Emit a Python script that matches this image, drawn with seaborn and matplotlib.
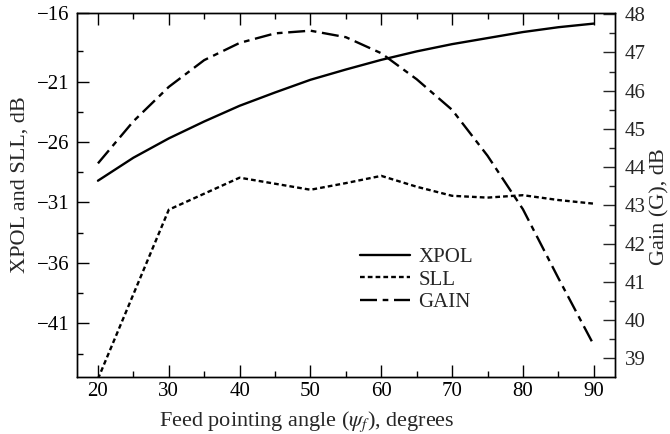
import numpy as np
import pandas as pd
import matplotlib
matplotlib.use("Agg")
import matplotlib.pyplot as plt
import seaborn as sns
from matplotlib.ticker import FixedLocator, MultipleLocator

# values
angle = [20, 25, 30, 35, 40, 45, 50, 55, 60, 65, 70, 75, 80, 85, 90]
xpol = [-29.2, -27.3, -25.7, -24.3, -23.0, -21.9, -20.85, -20.0, -19.2,
        -18.5, -17.9, -17.4, -16.9, -16.5, -16.2]
gain = [44.1, 45.2, 46.1, 46.8, 47.25, 47.5, 47.57, 47.4, 46.98, 46.3,
        45.5, 44.3, 42.9, 41.1, 39.35]
sll_angle = [20, 30, 40, 45, 50, 55, 60, 65, 70, 75, 80, 85, 90]
sll = [-45.6, -31.6, -28.95, -29.45, -29.95, -29.4, -28.8, -29.7, -30.45,
       -30.6, -30.4, -30.8, -31.1]

left_ticks = [-41, -36, -31, -26, -21]
left_labels = ["\u221241", "\u221236", "\u221231", "\u221226", "\u221221", "\u221216"]
right_ticks = [39, 40, 41, 42, 43, 44, 45, 46, 47, 48]

df = pd.DataFrame({"angle": angle, "xpol": xpol, "gain": gain})
df_sll = pd.DataFrame({"angle": sll_angle, "sll": sll})

sns.set_style("ticks")
plt.rcParams['font.family'] = ['Liberation Serif', 'DejaVu Serif']
plt.rcParams['mathtext.fontset'] = 'stix'

fig = plt.figure(figsize=(6.7, 4.34), dpi=100)
ax = fig.add_axes([0.1145, 0.132, 0.8034, 0.8387])
ax2 = ax.twinx()

sns.lineplot(data=df, x="angle", y="xpol", ax=ax, color="black", lw=1.7,
             label="XPOL", legend=False)
sns.lineplot(data=df_sll, x="angle", y="sll", ax=ax, color="black", lw=1.7,
             linestyle=(0, (2.0, 1.3)), label="SLL", legend=False)
sns.lineplot(data=df, x="angle", y="gain", ax=ax2, color="black", lw=1.7,
             linestyle=(0, (7.2, 2.4, 2.4, 2.4)), label="GAIN", legend=False)

# axes limits and ticks
ax.set_xlim(17, 93)
ax.set_xticks(range(20, 91, 10))
ax.xaxis.set_minor_locator(MultipleLocator(5))
ylo, yhi = -45.42, -15.3
ax.set_ylim(ylo, yhi)
ax.set_yticks(left_ticks + [yhi])
ax.set_yticklabels(left_labels)
ax.yaxis.set_minor_locator(FixedLocator([-43.5, -38.5, -33.5, -28.5, -23.5, -18.5]))

ax2.set_ylim(38.52, 48.04)
ax2.set_yticks(right_ticks)
ax2.yaxis.set_minor_locator(FixedLocator([39.5, 40.5, 41.5, 42.5, 43.5, 44.5, 45.5, 46.5, 47.5]))

ax.tick_params(which='both', direction='in', top=True, right=False, width=1.0,
               labelsize=15, colors='black')
ax.tick_params(which='major', length=8.4)
ax.tick_params(which='minor', length=4.3)
ax.tick_params(axis='y', pad=5)
ax.tick_params(axis='x', pad=4)
ax2.tick_params(axis='y', which='both', direction='in', right=True, left=False,
                width=1.0, labelsize=15, pad=7)
ax2.tick_params(axis='y', which='major', length=8.4)
ax2.tick_params(axis='y', which='minor', length=4.3)

for a in (ax, ax2):
    for sp in a.spines.values():
        sp.set_linewidth(1.0)
        sp.set_color('black')

ax.set_xlabel(r"Feed pointing angle ($\psi_f$), degrees", fontsize=16)
ax.set_ylabel("XPOL and SLL, dB", fontsize=16)
ax2.set_ylabel("Gain (G), dB", fontsize=16)
ax.xaxis.set_label_coords(0.427, -0.09)
ax.yaxis.set_label_coords(-0.087, 0.527)
ax2.yaxis.set_label_coords(1.066, 0.466)

handles = ax.get_lines()[:2] + ax2.get_lines()[:1]
ax.legend(handles=handles, labels=["XPOL", "SLL", "GAIN"], loc='center left',
          bbox_to_anchor=(0.526, 0.266), frameon=False, fontsize=15,
          handlelength=2.4, handletextpad=0.4, labelspacing=0.15,
          borderpad=0, borderaxespad=0)

fig.savefig("out.png", dpi=100)
